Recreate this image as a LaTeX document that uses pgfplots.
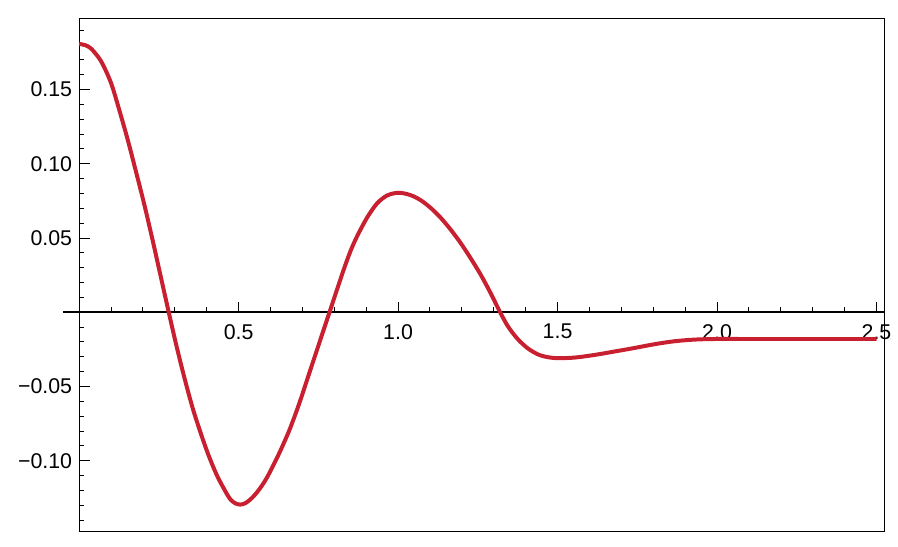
\documentclass[border=0pt]{standalone}
\usepackage{pgfplots}
\pgfplotsset{compat=1.18}
\usepackage{fontspec}
\setmainfont{Liberation Sans}
\definecolor{curve}{RGB}{200,32,48}

\begin{document}
\begin{tikzpicture}
  \begin{axis}[
      scale only axis,
      width=403.85pt,
      height=257.5pt,
      xmin=0, xmax=2.524,
      ymin=-0.1477, ymax=0.198,
      clip=false,
      axis x line=middle,
      axis y line=left,
      x axis line style={-, line width=1.1pt, shorten <=-8pt},
      y axis line style={-, line width=0.6pt},
      xtick={0.5,1.0,1.5,2.0,2.5},
      xticklabels={0.5,1.0,1.5,2.0,2.5},
      minor xtick={0.1,0.2,0.3,0.4,0.6,0.7,0.8,0.9,1.1,1.2,1.3,1.4,
        1.6,1.7,1.8,1.9,2.1,2.2,2.3,2.4},
      ytick={-0.10,-0.05,0.05,0.10,0.15},
      yticklabels={−0.10,−0.05,0.05,0.10,0.15},
      minor ytick={-0.14,-0.13,-0.12,-0.11,-0.09,-0.08,-0.07,-0.06,
        -0.04,-0.03,-0.02,-0.01,0.01,0.02,0.03,0.04,0.06,0.07,0.08,0.09,
        0.11,0.12,0.13,0.14,0.16,0.17,0.18,0.19},
      tick align=inside,
      major tick length=5.3pt,
      minor tick length=2.7pt,
      every tick/.style={black, line width=0.5pt},
      tick label style={font=\fontsize{10.7}{12}\selectfont, text=black},
      xticklabel style={yshift=-2.5pt},
    ]

    % frame round the plot
    \draw[line width=0.6pt] (rel axis cs:0,0) rectangle (rel axis cs:1,1);

    \addplot[curve, line width=2pt, smooth] coordinates {
      (0.000, 0.1807) (0.019, 0.1799) (0.038, 0.1775) (0.069, 0.1690)
      (0.100, 0.1545) (0.126, 0.1362) (0.152, 0.1165) (0.178, 0.0950)
      (0.204, 0.0729) (0.230, 0.0490) (0.255, 0.0250) (0.280, 0.0010)
      (0.304,-0.0215) (0.330,-0.0440) (0.356,-0.0645) (0.383,-0.0825)
      (0.408,-0.0975) (0.434,-0.1107) (0.461,-0.1215) (0.475,-0.1262)
      (0.490,-0.1287) (0.505,-0.1295) (0.520,-0.1287) (0.535,-0.1264)
      (0.550,-0.1232) (0.565,-0.1192) (0.580,-0.1145) (0.596,-0.1085)
      (0.627,-0.0951) (0.659,-0.0795) (0.690,-0.0615) (0.721,-0.0414)
      (0.752,-0.0213) (0.785, 0.0000) (0.809, 0.0156) (0.830, 0.0290)
      (0.851, 0.0413) (0.872, 0.0514) (0.903, 0.0638) (0.934, 0.0733)
      (0.966, 0.0787) (1.002, 0.0805) (1.039, 0.0789) (1.070, 0.0756)
      (1.101, 0.0705) (1.133, 0.0638) (1.164, 0.0559) (1.195, 0.0470)
      (1.226, 0.0369) (1.258, 0.0257) (1.289, 0.0134) (1.320, 0.0000)
      (1.346,-0.0100) (1.377,-0.0185) (1.408,-0.0245) (1.440,-0.0285)
      (1.471,-0.0303) (1.502,-0.0309) (1.554,-0.0305) (1.617,-0.0287)
      (1.679,-0.0264) (1.742,-0.0240) (1.804,-0.0215) (1.867,-0.0195)
      (1.929,-0.0184) (1.992,-0.0180) (2.100,-0.0180) (2.300,-0.0180)
      (2.500,-0.0180)
    };

    % page margins as in the reference
    \path (axis cs:-0.248,0.2103) rectangle (axis cs:2.558,-0.1575);
  \end{axis}
\end{tikzpicture}
\end{document}
